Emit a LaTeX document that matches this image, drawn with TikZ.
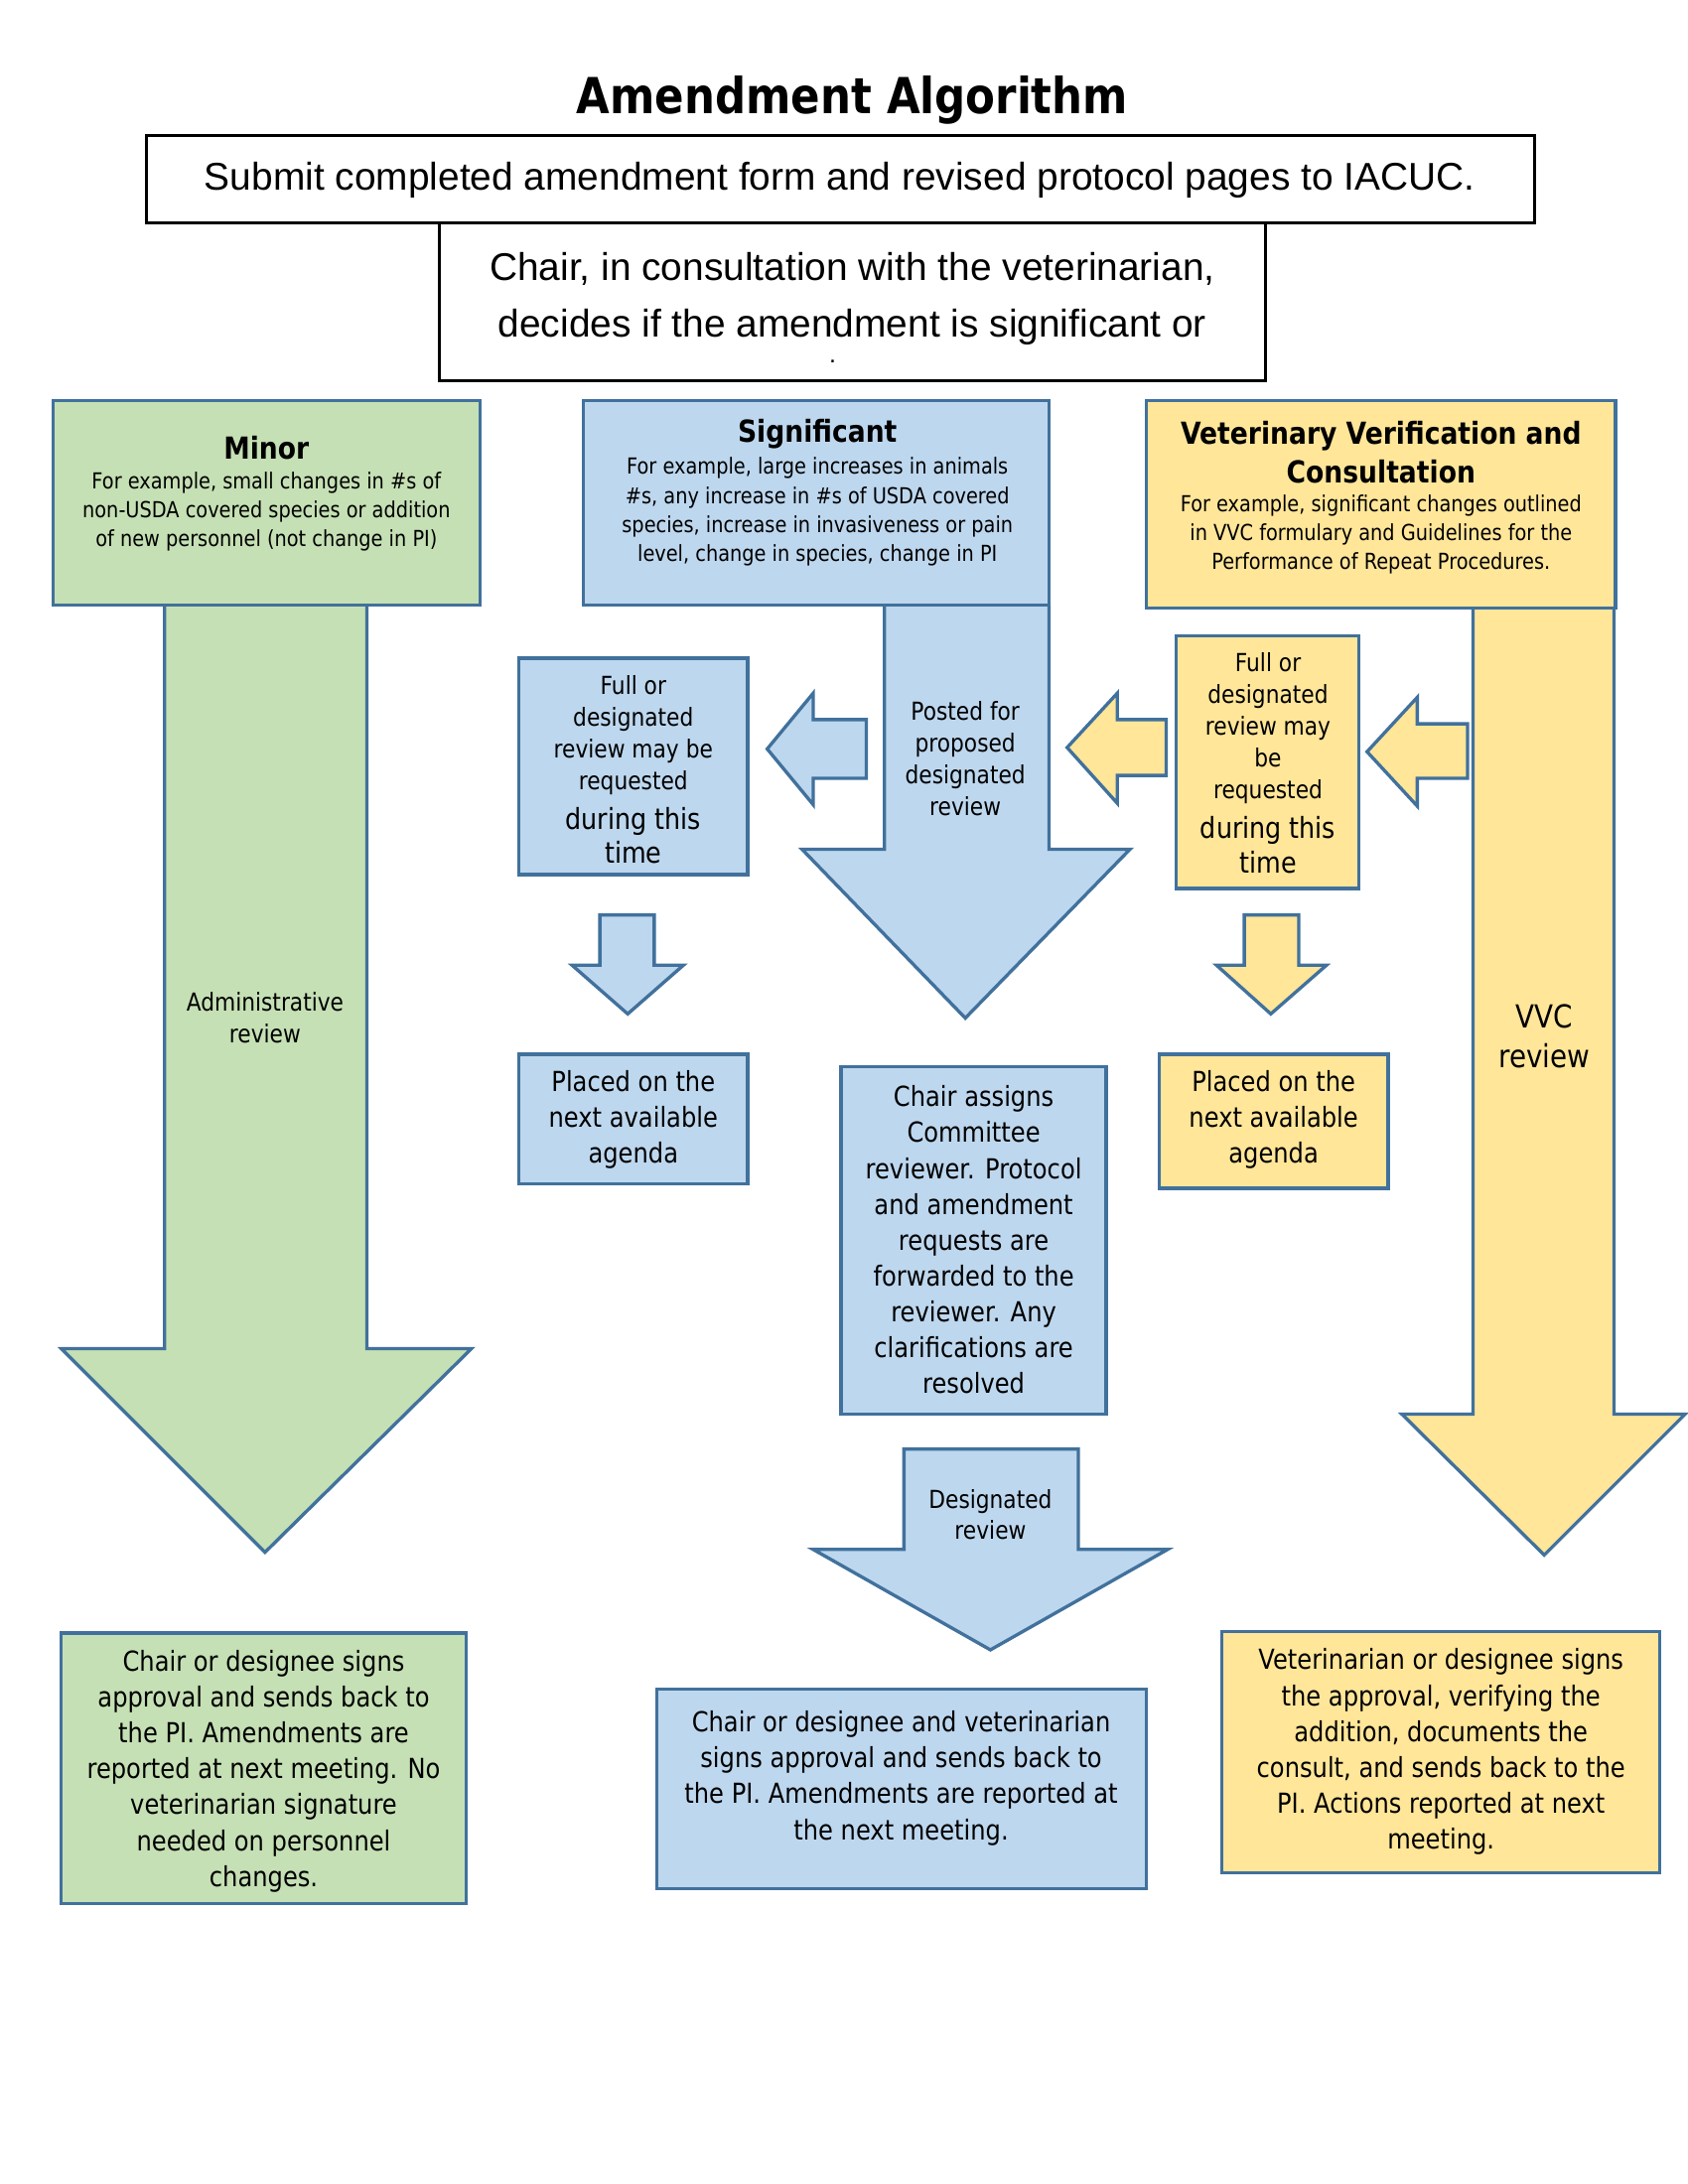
\documentclass[tikz,border=0pt]{standalone}
\usepackage{fontspec}
\setmainfont{DejaVu Sans}[FakeStretch=0.87]
\newfontfamily\arialfont{Liberation Sans}
\definecolor{edgeblue}{HTML}{41719C}
\definecolor{minorgreen}{HTML}{C5E0B4}
\definecolor{sigblue}{HTML}{BDD7EE}
\definecolor{vvcyellow}{HTML}{FFE699}
\tikzset{
  panel/.style={draw=edgeblue, line width=1.2bp, line join=miter},
  greenpanel/.style={panel, fill=minorgreen},
  bluepanel/.style={panel, fill=sigblue},
  yellowpanel/.style={panel, fill=vvcyellow},
  blackpanel/.style={draw=black, line width=1.2bp},
  txt/.style={align=center, inner sep=0pt},
  headtxt/.style={txt, font=\bfseries\fontsize{11bp}{14bp}\selectfont},
  notetxt/.style={txt, font=\fontsize{8bp}{10.5bp}\selectfont},
  arrowtxt/.style={txt, font=\fontsize{9bp}{11.5bp}\selectfont},
  bigtxt/.style={txt, font=\fontsize{10.5bp}{12.5bp}\selectfont},
  stepbox/.style={txt, font=\fontsize{10bp}{13bp}\selectfont},
}
\begin{document}
\begin{tikzpicture}[x=0.50579bp, y=-0.50579bp]
  \useasboundingbox (0,0) rectangle (1210,1566);

  % title and the two top boxes
  \node[txt, font=\bfseries\fontsize{18bp}{22bp}\selectfont] (title) at (611,72) {Amendment Algorithm};
  \draw[blackpanel] (105,97) rectangle (1100,160);
  \node[txt, font=\arialfont\fontsize{14bp}{17bp}\selectfont] (submit) at (602,129) {Submit completed amendment form and revised protocol pages to IACUC.};
  \draw[blackpanel] (315,160) rectangle (907,273);
  \node[txt, font=\arialfont\fontsize{14bp}{20.5bp}\selectfont] (decide) at (611,214) {Chair, in consultation with the veterinarian,\\decides if the amendment is significant or};
  \node[txt, font=\arialfont\fontsize{9bp}{10bp}\selectfont] (cut) at (597,259) {.};

  % big arrows
  \filldraw[greenpanel] (118,434) -- (118,967) -- (44,967) -- (190,1113) -- (338,967) -- (263,967) -- (263,434);
  \filldraw[bluepanel] (634,434) -- (634,609) -- (575,609) -- (692,730) -- (810,609) -- (752,609) -- (752,434);
  \filldraw[yellowpanel] (1056,436) -- (1056,1014) -- (1005,1014) -- (1107,1115) -- (1208,1014) -- (1157,1014) -- (1157,436);
  \filldraw[bluepanel] (648,1039) -- (773,1039) -- (773,1111) -- (837,1111) -- (710,1183) -- (583,1111) -- (648,1111) -- cycle;

  % small arrows
  \filldraw[bluepanel] (430,656) -- (469,656) -- (469,692) -- (490,692) -- (450,727) -- (410,692) -- (430,692) -- cycle;
  \filldraw[yellowpanel] (892,656) -- (931,656) -- (931,692) -- (951,692) -- (911,727) -- (872,692) -- (892,692) -- cycle;
  \filldraw[bluepanel] (621,516) -- (583,516) -- (583,497) -- (550,537) -- (583,577) -- (583,558) -- (621,558) -- cycle;
  \filldraw[yellowpanel] (836,516) -- (801,516) -- (801,497) -- (765,536) -- (801,576) -- (801,556) -- (836,556) -- cycle;
  \filldraw[yellowpanel] (1052,519) -- (1016,519) -- (1016,500) -- (980,539) -- (1016,578) -- (1016,558) -- (1052,558) -- cycle;

  % category boxes
  \draw[greenpanel] (38,287) rectangle (344,434);
  \node[headtxt] (minorhead) at (191,321) {Minor};
  \node[notetxt] (minorbody) at (191,367) {For example, small changes in \#s of\\non-USDA covered species or addition\\of new personnel (not change in PI)};
  \draw[bluepanel] (418,287) rectangle (752,434);
  \node[headtxt] (sighead) at (586,311) {Significant};
  \node[notetxt] (sigbody) at (586,367) {For example, large increases in animals\\\#s, any increase in \#s of USDA covered\\species, increase in invasiveness or pain\\level, change in species, change in PI};
  \draw[yellowpanel] (822,287) rectangle (1158,436);
  \node[headtxt] (vvchead) at (990,324) {Veterinary Verification and\\Consultation};
  \node[notetxt] (vvcbody) at (990,383) {For example, significant changes outlined\\in VVC formulary and Guidelines for the\\Performance of Repeat Procedures.};

  % arrow labels
  \node[arrowtxt] (admin) at (190,730) {Administrative\\review};
  \node[arrowtxt] (posted) at (692,544) {Posted for\\proposed\\designated\\review};
  \node[arrowtxt] (desig) at (710,1086) {Designated\\review};
  \node[txt, font=\fontsize{11.5bp}{14.5bp}\selectfont] (vvcrev) at (1107,743) {VVC\\review};

  % request boxes
  \draw[bluepanel] (372,472) rectangle (536,627);
  \node[arrowtxt] (sigreq) at (454,527) {Full or\\designated\\review may be\\requested};
  \node[bigtxt] (sigreqb) at (454,599) {during this\\time};
  \draw[yellowpanel] (843,456) rectangle (974,637);
  \node[arrowtxt] (vvcreq) at (909,522) {Full or\\designated\\review may\\be\\requested};
  \node[bigtxt] (vvcreqb) at (909,606) {during this\\time};

  % agenda boxes
  \draw[bluepanel] (372,756) rectangle (536,849);
  \node[stepbox] (sigagenda) at (454,803) {Placed on the\\next available\\agenda};
  \draw[yellowpanel] (831,756) rectangle (995,852);
  \node[stepbox] (vvcagenda) at (913,803) {Placed on the\\next available\\agenda};
  \draw[bluepanel] (603,765) rectangle (793,1014);
  \node[stepbox] (assign) at (698,889) {Chair assigns\\Committee\\reviewer. Protocol\\and amendment\\requests are\\forwarded to the\\reviewer. Any\\clarifications are\\resolved};

  % final boxes
  \draw[greenpanel] (44,1171) rectangle (334,1365);
  \node[stepbox] (minorend) at (189,1270) {Chair or designee signs\\approval and sends back to\\the PI. Amendments are\\reported at next meeting. No\\veterinarian signature\\needed on personnel\\changes.};
  \draw[bluepanel] (471,1211) rectangle (822,1354);
  \node[stepbox] (sigend) at (646,1275) {Chair or designee and veterinarian\\signs approval and sends back to\\the PI. Amendments are reported at\\the next meeting.};
  \draw[yellowpanel] (876,1170) rectangle (1190,1343);
  \node[stepbox] (vvcend) at (1033,1256) {Veterinarian or designee signs\\the approval, verifying the\\addition, documents the\\consult, and sends back to the\\PI. Actions reported at next\\meeting.};
\end{tikzpicture}
\end{document}
